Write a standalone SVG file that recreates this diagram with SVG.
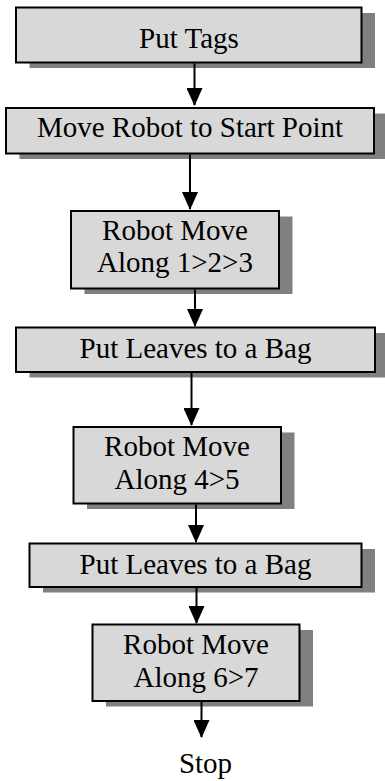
<svg xmlns="http://www.w3.org/2000/svg" width="385" height="781" viewBox="0 0 385 781">
<defs>
<marker id="ah" markerUnits="userSpaceOnUse" markerWidth="18" markerHeight="16" refX="17" refY="8" orient="auto" viewBox="0 0 18 16">
<path d="M0,0 L18,8 L0,16 Z" fill="#000"/>
</marker>
</defs>
<style>
.box{fill:#d8d8d8;stroke:#000;stroke-width:2}
.sh{fill:#808080}
.t{font-family:"Liberation Serif","Times New Roman",serif;font-size:29px;fill:#000;text-anchor:middle}
.c{stroke:#000;stroke-width:2;fill:none;marker-end:url(#ah)}
</style>
<rect width="385" height="781" fill="#fff"/>
<g id="n1">
<rect class="sh" x="29.5" y="13" width="345.5" height="55"/>
<rect class="box" x="16" y="7.5" width="345.5" height="55"/>
<text class="t" x="189" y="47.5">Put Tags</text>
</g>
<g id="n2">
<rect class="sh" x="19.5" y="113.5" width="368" height="45.5"/>
<rect class="box" x="6" y="108" width="368" height="45.5"/>
<text class="t" x="190" y="136.5">Move Robot to Start Point</text>
</g>
<g id="n3">
<rect class="sh" x="84.5" y="216.5" width="208" height="77.5"/>
<rect class="box" x="71" y="211" width="208" height="77.5"/>
<text class="t" x="175" y="240">Robot Move</text>
<text class="t" x="175" y="271.5">Along 1&gt;2&gt;3</text>
</g>
<g id="n4">
<rect class="sh" x="29.5" y="333" width="359" height="44.5"/>
<rect class="box" x="16" y="327.5" width="359" height="44.5"/>
<text class="t" x="195.5" y="357.5">Put Leaves to a Bag</text>
</g>
<g id="n5">
<rect class="sh" x="87" y="432.5" width="207.5" height="76.5"/>
<rect class="box" x="73.5" y="427" width="207.5" height="76.5"/>
<text class="t" x="177" y="456">Robot Move</text>
<text class="t" x="177" y="488.5">Along 4&gt;5</text>
</g>
<g id="n6">
<rect class="sh" x="43" y="549" width="332" height="43.5"/>
<rect class="box" x="29.5" y="543.5" width="332" height="43.5"/>
<text class="t" x="195.5" y="573.5">Put Leaves to a Bag</text>
</g>
<g id="n7">
<rect class="sh" x="106" y="630" width="207" height="76.5"/>
<rect class="box" x="92.5" y="624.5" width="207" height="76.5"/>
<text class="t" x="196" y="653.5">Robot Move</text>
<text class="t" x="196" y="686.5">Along 6&gt;7</text>
</g>
<g id="n8">
<text class="t" x="205.5" y="773">Stop</text>
</g>
<g id="connectors">
<path class="c" d="M194.5,63.5 L194.5,105"/>
<path class="c" d="M190,154.5 L190,209"/>
<path class="c" d="M195,289.5 L195,326"/>
<path class="c" d="M191.5,373 L191.5,425"/>
<path class="c" d="M196,504.5 L196,542"/>
<path class="c" d="M196.5,588 L196.5,623"/>
<path class="c" d="M201.5,702 L201.5,737"/>
</g>
</svg>
